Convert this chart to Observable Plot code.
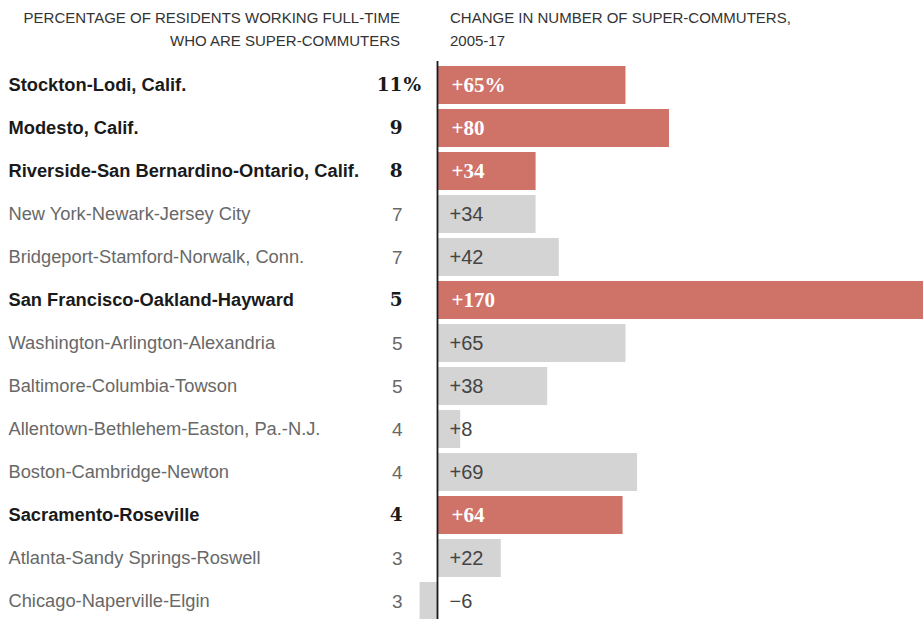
<!DOCTYPE html>
<html>
<head>
<meta charset="utf-8">
<script src="https://cdn.jsdelivr.net/npm/d3@7"></script>
<script src="https://cdn.jsdelivr.net/npm/@observablehq/plot@0.6"></script>
<style>
  html, body { margin: 0; padding: 0; background: #fff; overflow: hidden; }
  #wrap { position: relative; width: 923px; height: 619px; overflow: hidden; }
  .hdr { position: absolute; top: 6px; font-family: "Liberation Sans", Arial, sans-serif; font-size: 15px; line-height: 23px; color: #333; }
  #hl { right: 523px; text-align: right; }
  #hr { left: 450px; text-align: left; }
  #chart { position: absolute; top: 0; left: 0; }
</style>
</head>
<body>
<div id="wrap">
  <div class="hdr" id="hl">PERCENTAGE OF RESIDENTS WORKING FULL-TIME<br>WHO ARE SUPER-COMMUTERS</div>
  <div class="hdr" id="hr">CHANGE IN NUMBER OF SUPER-COMMUTERS,<br>2005-17</div>
  <div id="chart"></div>
</div>
<script>
const cities = [
  "Stockton-Lodi, Calif.",
  "Modesto, Calif.",
  "Riverside-San Bernardino-Ontario, Calif.",
  "New York-Newark-Jersey City",
  "Bridgeport-Stamford-Norwalk, Conn.",
  "San Francisco-Oakland-Hayward",
  "Washington-Arlington-Alexandria",
  "Baltimore-Columbia-Towson",
  "Allentown-Bethlehem-Easton, Pa.-N.J.",
  "Boston-Cambridge-Newton",
  "Sacramento-Roseville",
  "Atlanta-Sandy Springs-Roswell",
  "Chicago-Naperville-Elgin"
];
const sharePct = [11, 9, 8, 7, 7, 5, 5, 5, 4, 4, 4, 3, 3];
const changePct = [65, 80, 34, 34, 42, 170, 65, 38, 8, 69, 64, 22, -6];
const highlighted = [true, true, true, false, false, true, false, false, false, false, true, false, false];
const changeLabels = ["+65%", "+80", "+34", "+34", "+42", "+170", "+65", "+38", "+8", "+69", "+64", "+22", "\u22126"];

const rows = cities.map((c, i) => ({
  city: c, share: sharePct[i], change: changePct[i], hi: highlighted[i], label: changeLabels[i], idx: i
}));

const RED = "#cf7369", GRAY = "#d4d4d4";
const SANS = "Liberation Sans, Arial, sans-serif";
const SERIF = "Liberation Serif, Georgia, serif";
const SERIF2 = "DejaVu Serif, Georgia, serif";

const hiRows = rows.filter(d => d.hi);
const loRows = rows.filter(d => !d.hi);

const chart = Plot.plot({
  width: 923,
  height: 624,
  marginTop: 61,
  marginBottom: 0,
  marginLeft: 0,
  marginRight: 0,
  x: { domain: [-150.7, 167.6], axis: null },
  y: { domain: cities, axis: null, paddingInner: 0.12, paddingOuter: 0.06 },
  style: { background: "transparent" },
  marks: [
    Plot.barX(rows, { x: "change", y: "city", fill: d => d.hi ? RED : GRAY }),
    Plot.ruleX([0], { stroke: "#1a1a1a", strokeWidth: 1.8 }),
    // city names
    Plot.text(hiRows, { y: "city", text: "city", frameAnchor: "left", dx: 8, textAnchor: "start",
      fill: "#1a1a1a", fontWeight: "bold", fontSize: 18.3, fontFamily: SANS }),
    Plot.text(loRows, { y: "city", text: "city", frameAnchor: "left", dx: 8, textAnchor: "start",
      fill: "#686868", fontSize: 18.3, fontFamily: SANS }),
    // share numbers
    Plot.text(hiRows, { y: "city", text: d => String(d.share), frameAnchor: "left", dx: 402, textAnchor: "end",
      fill: "#1a1a1a", fontWeight: "bold", fontSize: 18.5, fontFamily: SERIF2 }),
    Plot.text(rows.filter(d => d.idx === 0), { y: "city", text: () => "%", frameAnchor: "left", dx: 403, textAnchor: "start",
      fill: "#1a1a1a", fontWeight: "bold", fontSize: 18.5, fontFamily: SERIF2 }),
    Plot.text(loRows, { y: "city", text: d => String(d.share), frameAnchor: "left", dx: 402, textAnchor: "end",
      fill: "#686868", fontSize: 19, fontFamily: SANS }),
    // change labels
    Plot.text(hiRows, { x: 0, y: "city", text: "label", dx: 14, textAnchor: "start",
      fill: "#fff", fontWeight: "bold", fontSize: 21, fontFamily: SERIF }),
    Plot.text(loRows, { x: 0, y: "city", text: "label", dx: 12, textAnchor: "start",
      fill: "#444", fontSize: 20, fontFamily: SANS })
  ]
});
document.getElementById("chart").appendChild(chart);
</script>
</body>
</html>
